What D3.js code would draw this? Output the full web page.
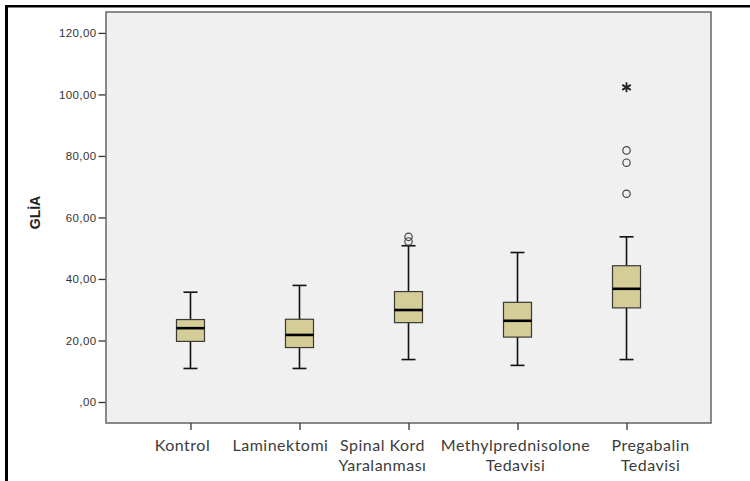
<!DOCTYPE html>
<html>
<head>
<meta charset="utf-8">
<script src="https://cdn.jsdelivr.net/npm/d3@7"></script>
<style>
  html, body { margin: 0; padding: 0; background: #fff; }
  svg { display: block; }
  .ytick text { font-family: "Liberation Sans", Arial, sans-serif; font-size: 11.5px; fill: #333; letter-spacing: 0.4px; }
  .cat text { font-family: Lato, "Open Sans", sans-serif; font-size: 16px; fill: #3c3c3c; letter-spacing: 0.5px; }
  .ytitle { font-family: "Liberation Sans", Arial, sans-serif; font-size: 14px; font-weight: bold; fill: #222; }
</style>
</head>
<body>
<svg id="chart" width="750" height="481"></svg>
<script>
"use strict";

// ─── Data ─────────────────────────────────────────────────────────────────────
const categories = ["Kontrol", "Laminektomi", "Spinal Kord Yaralanması", "Methylprednisolone Tedavisi", "Pregabalin Tedavisi"];
const labelLines = [["Kontrol"], ["Laminektomi"], ["Spinal Kord", "Yaralanması"], ["Methylprednisolone", "Tedavisi"], ["Pregabalin", "Tedavisi"]];
const whiskerLow  = [10.9, 10.9, 13.8, 11.9, 13.8];
const q1          = [19.7, 17.7, 25.8, 21.1, 30.6];
const median      = [24.0, 21.8, 29.9, 26.4, 36.8];
const q3          = [26.8, 26.9, 35.9, 32.4, 44.3];
const whiskerHigh = [35.7, 37.9, 50.8, 48.6, 53.7];
const outlierCat  = ["Spinal Kord Yaralanması", "Spinal Kord Yaralanması", "Pregabalin Tedavisi", "Pregabalin Tedavisi", "Pregabalin Tedavisi"];
const outlierVal  = [53.7, 52.2, 81.8, 77.8, 67.7];
const extremeCat  = ["Pregabalin Tedavisi"];
const extremeVal  = [102.3];
const yTicks      = [0, 20, 40, 60, 80, 100, 120];
const yTitle      = "GLİA";

// label nudges (the category labels in the original sit a little off their ticks)
const labelNudge = [-8, -19, -26, -2, 24];

// ─── Layout ───────────────────────────────────────────────────────────────────
const W = 750, H = 481;
const plot = { left: 106, right: 711, top: 12, bottom: 423 };

const svg = d3.select("#chart");

// outer frame: only top and left edges visible
svg.append("rect").attr("x", 5).attr("y", 5).attr("width", W).attr("height", 2.5).attr("fill", "#000");
svg.append("rect").attr("x", 5).attr("y", 5).attr("width", 3).attr("height", H).attr("fill", "#000");

const x = d3.scalePoint().domain(categories).range([plot.left, plot.right]).padding(0.775);
const y = d3.scaleLinear().domain([-6.83, 126.8]).range([plot.bottom, plot.top]);

// plot background + border
svg.append("rect")
  .attr("x", plot.left).attr("y", plot.top)
  .attr("width", plot.right - plot.left).attr("height", plot.bottom - plot.top)
  .attr("fill", "#f0f0f0").attr("stroke", "#6e6e6e").attr("stroke-width", 1.6);

// y axis
const yAxis = d3.axisLeft(y).tickValues(yTicks).tickSize(7).tickPadding(2)
  .tickFormat(d => d === 0 ? ",00" : d3.format(".2f")(d).replace(".", ","));
const gy = svg.append("g").attr("class", "ytick")
  .attr("transform", `translate(${plot.left - 0.5},0)`).call(yAxis);
gy.select(".domain").remove();
gy.selectAll("line").attr("stroke", "#333").attr("stroke-width", 1.3);

svg.append("text").attr("class", "ytitle")
  .attr("transform", `translate(40,${(plot.top + plot.bottom) / 2 - 5}) rotate(-90)`)
  .attr("text-anchor", "middle").text(yTitle);

// x axis ticks + labels
const xAxis = d3.axisBottom(x).tickSize(7).tickFormat("");
const gx = svg.append("g").attr("transform", `translate(0,${plot.bottom})`).call(xAxis);
gx.select(".domain").remove();
gx.selectAll("line").attr("stroke", "#333").attr("stroke-width", 1.3);

const cat = svg.append("g").attr("class", "cat");
categories.forEach((c, i) => {
  labelLines[i].forEach((line, j) => {
    cat.append("text").attr("text-anchor", "middle")
      .attr("x", x(c) + labelNudge[i])
      .attr("y", plot.bottom + 28 + j * 20)
      .text(line);
  });
});

// boxes
const boxW = 28, capW = 14;
const boxes = svg.append("g").selectAll("g").data(categories).join("g")
  .attr("transform", d => `translate(${x(d)},0)`);

boxes.append("line")
  .attr("x1", 0).attr("x2", 0)
  .attr("y1", (d, i) => y(whiskerHigh[i])).attr("y2", (d, i) => y(whiskerLow[i]))
  .attr("stroke", "#111").attr("stroke-width", 1.6);
boxes.append("line")
  .attr("x1", -capW / 2).attr("x2", capW / 2)
  .attr("y1", (d, i) => y(whiskerHigh[i])).attr("y2", (d, i) => y(whiskerHigh[i]))
  .attr("stroke", "#111").attr("stroke-width", 1.6);
boxes.append("line")
  .attr("x1", -capW / 2).attr("x2", capW / 2)
  .attr("y1", (d, i) => y(whiskerLow[i])).attr("y2", (d, i) => y(whiskerLow[i]))
  .attr("stroke", "#111").attr("stroke-width", 1.6);
boxes.append("rect")
  .attr("x", -boxW / 2).attr("width", boxW)
  .attr("y", (d, i) => y(q3[i])).attr("height", (d, i) => y(q1[i]) - y(q3[i]))
  .attr("fill", "#d5cd97").attr("stroke", "#3a3a33").attr("stroke-width", 1.2);
boxes.append("line")
  .attr("x1", -boxW / 2).attr("x2", boxW / 2)
  .attr("y1", (d, i) => y(median[i])).attr("y2", (d, i) => y(median[i]))
  .attr("stroke", "#000").attr("stroke-width", 2.6);

// outliers (circles) and extremes (asterisks)
svg.append("g").selectAll("circle").data(outlierVal).join("circle")
  .attr("cx", (d, i) => x(outlierCat[i])).attr("cy", d => y(d)).attr("r", 3.7)
  .attr("fill", "none").attr("stroke", "#444").attr("stroke-width", 1.2);

const star = d3.symbol().type(d3.symbolAsterisk).size(70);
svg.append("g").selectAll("path").data(extremeVal).join("path")
  .attr("transform", (d, i) => `translate(${x(extremeCat[i])},${y(d)})`)
  .attr("d", star).attr("fill", "none").attr("stroke", "#222").attr("stroke-width", 1.8);
</script>
</body>
</html>
